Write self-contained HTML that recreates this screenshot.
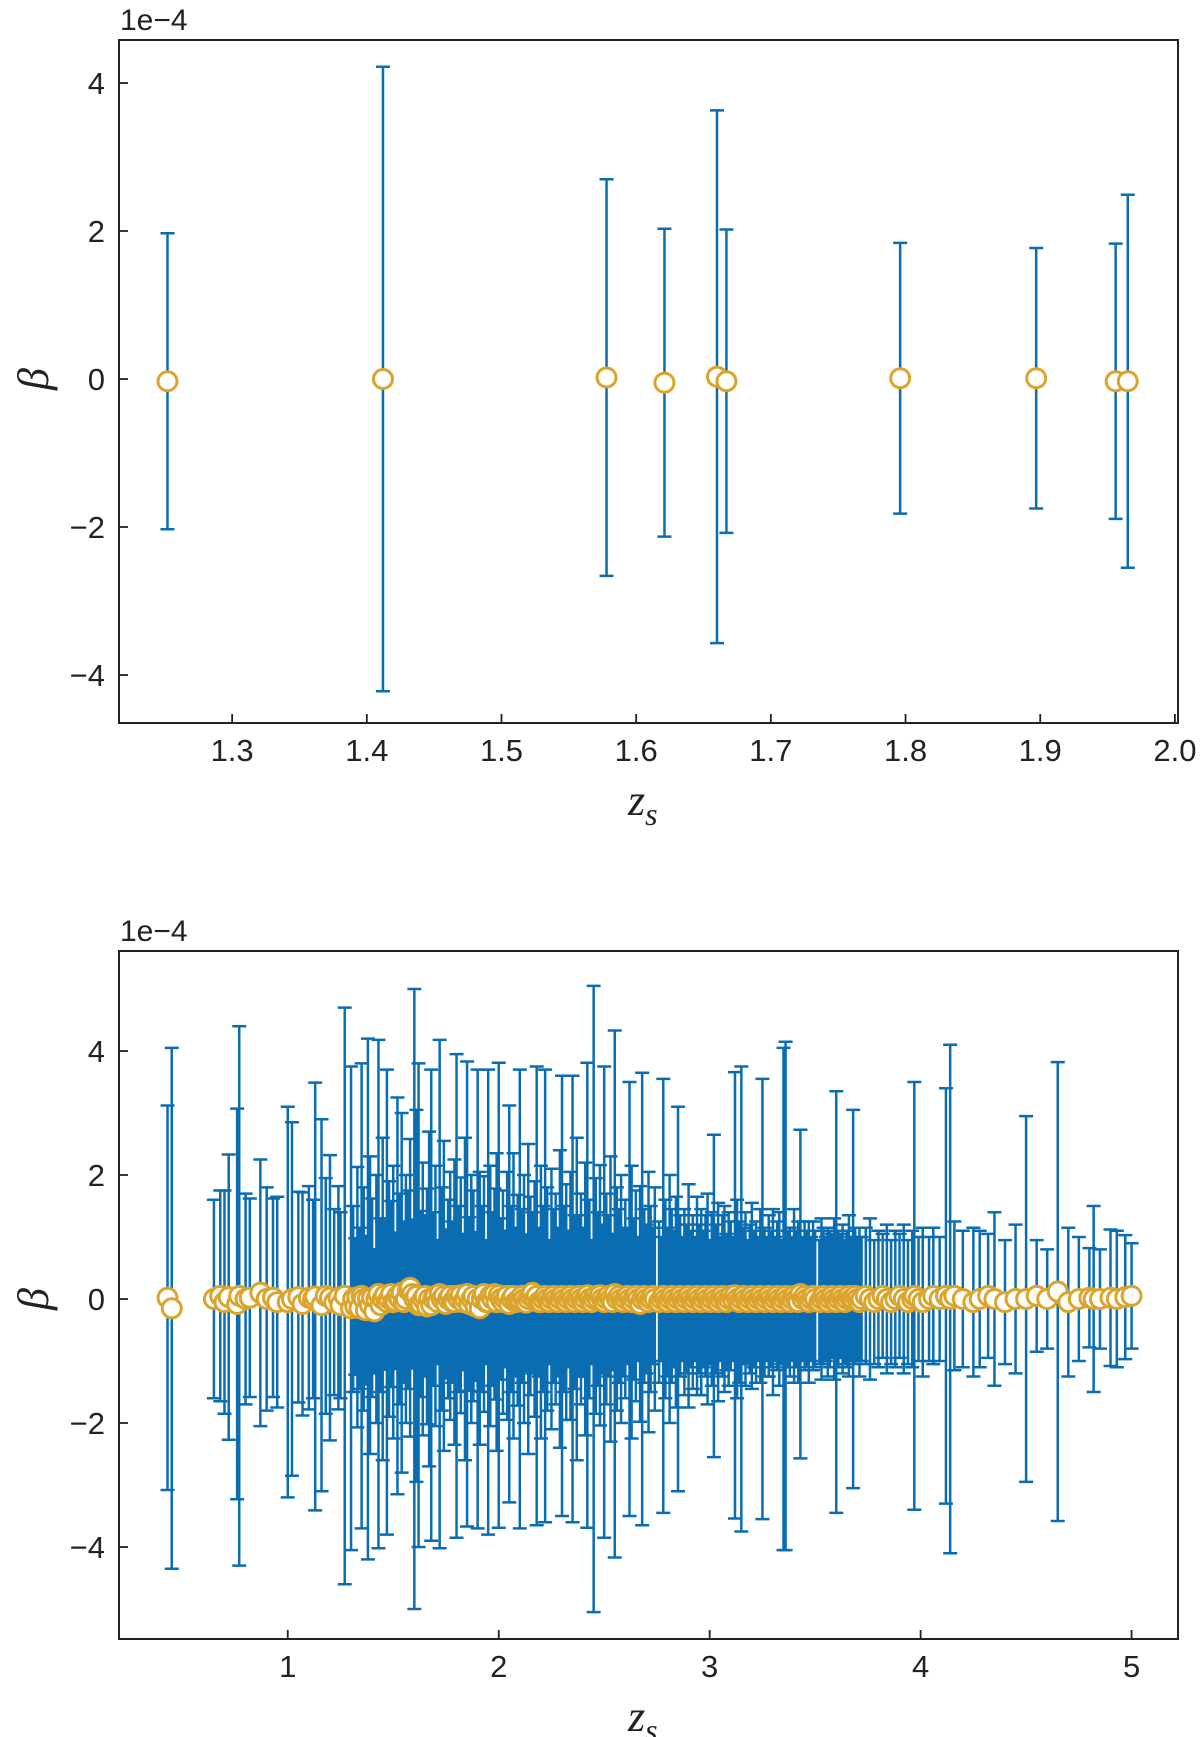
<!DOCTYPE html>
<html><head><meta charset="utf-8"><title>beta vs z_s</title>
<style>
html,body{margin:0;padding:0;background:#fff;}
svg{display:block;font-family:"Liberation Sans",sans-serif;}
</style></head>
<body>
<svg id="chart" width="1200" height="1737" viewBox="0 0 1200 1737" xmlns="http://www.w3.org/2000/svg">
<g id="top"></g>
<g id="bot"></g>
</svg>
<script>
// ---- Top panel data ----
const topZ = [1.252, 1.412, 1.578, 1.621, 1.660, 1.667, 1.796, 1.897, 1.956, 1.965];
const topBeta = [-0.03, 0.0, 0.02, -0.05, 0.03, -0.03, 0.01, 0.01, -0.03, -0.03];
const topErr = [2.0, 4.22, 2.68, 2.08, 3.6, 2.05, 1.83, 1.76, 1.86, 2.52];
const topXTicks = [1.3, 1.4, 1.5, 1.6, 1.7, 1.8, 1.9, 2.0];
const topXTickLabels = ["1.3","1.4","1.5","1.6","1.7","1.8","1.9","2.0"];
const topYTicks = [-4, -2, 0, 2, 4];
const topYTickLabels = ["\u22124","\u22122","0","2","4"];

// ---- Bottom panel data: [z, beta, err] ----
const botPoints = [
[0.43,0.02,3.1],[0.45,-0.15,4.2],[0.65,0.0,1.6],[0.68,0.05,1.7],[0.70,-0.05,1.8],[0.72,0.03,2.3],[0.76,-0.08,3.15],[0.77,0.05,4.35],
[0.80,0.0,1.7],[0.82,0.02,1.6],[0.87,0.1,2.15],[0.90,0.0,1.8],[0.93,0.02,1.6],[0.95,-0.05,1.7],[1.00,-0.05,3.15],[1.02,0.0,2.85],
[1.05,0.03,1.7],[1.07,-0.08,1.8],[1.10,0.02,1.8],[1.12,0.0,1.6],[1.13,0.04,3.45],[1.16,-0.1,3.0],[1.18,0.05,1.9],[1.20,0.02,2.3],
[1.22,-0.05,1.5],[1.24,0.02,1.8],[1.25,-0.1,1.5],[1.27,0.05,4.65],[1.30,-0.15,3.9],[1.31,0.0,1.5],[1.32,-0.12,1.1],[1.33,0.03,2.1],
[1.34,-0.15,1.3],[1.35,0.05,3.75],[1.36,0.0,1.8],[1.37,-0.18,1.2],[1.38,0.0,4.2],[1.39,-0.1,2.4],[1.40,0.02,1.6],[1.41,-0.2,1.0],
[1.42,0.0,2.0],[1.43,0.08,4.1],[1.44,-0.1,1.4],[1.45,0.0,2.6],[1.46,0.06,1.2],[1.47,-0.05,3.75],[1.48,0.0,1.9],[1.49,0.08,1.5],
[1.50,-0.05,2.2],[1.51,-0.03,1.1],[1.52,0.05,3.2],[1.53,0.0,1.7],[1.54,0.1,2.9],[1.55,-0.05,1.3],[1.56,0.0,2.0],[1.57,0.15,1.6],
[1.58,0.18,2.4],[1.59,0.08,1.2],[1.60,0.0,5.0],[1.61,0.05,3.0],[1.62,-0.1,3.9],[1.63,-0.08,1.5],[1.64,0.0,2.2],[1.65,0.05,1.3],
[1.66,-0.12,1.9],[1.67,0.0,2.7],[1.68,-0.1,3.8],[1.69,0.0,1.4],[1.70,0.05,2.1],[1.71,-0.05,1.0],[1.72,0.08,4.1],[1.73,0.0,1.8],
[1.74,0.05,2.5],[1.75,-0.08,1.2],[1.76,0.0,1.6],[1.77,0.05,2.0],[1.78,-0.05,1.3],[1.79,-0.05,2.3],[1.80,0.05,3.9],[1.81,0.0,1.5],
[1.82,0.06,1.9],[1.83,-0.05,1.1],[1.84,0.0,2.6],[1.85,0.08,3.75],[1.86,-0.08,1.4],[1.87,0.0,2.0],[1.88,0.05,1.7],[1.89,-0.12,1.2],
[1.90,0.0,3.7],[1.91,-0.15,2.2],[1.92,0.0,1.5],[1.93,0.08,1.9],[1.94,-0.05,1.0],[1.95,-0.05,3.75],[1.96,0.05,2.1],[1.97,0.0,1.4],
[1.98,0.08,1.7],[1.99,-0.05,2.4],[2.00,0.06,3.75],[2.01,0.0,1.3],[2.02,-0.05,1.8],[2.03,0.0,1.1],[2.04,0.05,2.0],[2.05,-0.08,3.2],
[2.06,0.0,1.5],[2.07,0.05,2.3],[2.08,-0.05,1.2],[2.09,-0.02,1.7],[2.10,0.0,3.7],[2.11,0.05,1.4],[2.12,0.0,2.0],[2.13,-0.06,1.1],
[2.14,0.0,2.5],[2.15,0.05,1.6],[2.16,0.1,1.3],[2.17,0.0,1.9],[2.18,0.05,3.7],[2.19,-0.05,1.2],[2.20,-0.05,2.2],[2.21,0.0,1.5],
[2.22,0.05,3.65],[2.23,0.0,1.8],[2.24,-0.05,1.0],[2.25,0.0,2.1],[2.26,0.05,1.4],[2.27,0.0,1.7],[2.28,-0.05,1.2],[2.29,0.0,2.4],
[2.30,0.05,3.55],[2.31,0.0,1.5],[2.32,-0.05,1.9],[2.33,0.0,1.1],[2.34,0.05,2.0],[2.35,0.0,3.6],[2.36,-0.05,1.4],[2.37,0.0,2.6],
[2.38,0.05,1.3],[2.39,0.0,1.7],[2.40,-0.05,1.2],[2.41,0.0,2.2],[2.42,0.06,3.75],[2.43,0.0,1.6],[2.44,-0.05,1.0],[2.45,0.0,5.05],
[2.46,0.05,1.9],[2.47,0.0,1.4],[2.48,0.06,2.1],[2.49,0.0,1.2],[2.50,-0.05,3.8],[2.51,0.0,1.7],[2.52,0.05,1.3],[2.53,0.0,2.3],
[2.54,-0.05,1.1],[2.55,0.08,4.25],[2.56,0.0,1.8],[2.57,0.05,1.4],[2.58,0.0,2.0],[2.59,-0.05,1.2],[2.60,0.0,1.6],[2.61,0.05,1.1],
[2.62,0.0,3.5],[2.63,-0.05,2.2],[2.64,0.0,1.3],[2.65,0.05,1.7],[2.66,0.0,1.0],[2.67,-0.08,1.9],[2.68,0.0,3.65],[2.69,0.05,1.4],
[2.70,0.0,1.2],[2.71,-0.05,2.1],[2.72,0.0,1.5],[2.73,0.05,1.1],[2.74,0.0,1.8],[2.76,-0.05,1.3],[2.77,0.0,1.0],[2.78,0.05,3.5],
[2.79,0.0,1.6],[2.80,-0.05,1.2],[2.81,0.0,2.0],[2.82,0.05,1.4],[2.83,0.0,1.1],[2.84,-0.05,1.7],[2.85,0.0,3.1],[2.86,0.05,1.3],
[2.87,0.0,1.0],[2.88,-0.05,1.5],[2.89,0.0,1.2],[2.90,0.05,1.8],[2.91,0.0,1.1],[2.92,-0.05,1.4],[2.93,0.0,1.0],[2.94,0.05,1.6],
[2.95,0.0,1.2],[2.96,-0.05,1.5],[2.97,0.0,1.1],[2.98,0.05,1.3],[2.99,0.0,1.7],[3.00,-0.05,1.0],[3.01,0.0,1.4],[3.02,0.05,2.6],
[3.03,0.0,1.2],[3.04,-0.05,1.6],[3.05,0.0,1.0],[3.06,0.05,1.3],[3.07,0.0,1.5],[3.08,-0.05,1.1],[3.09,0.0,1.4],[3.10,0.05,1.2],
[3.11,0.0,1.0],[3.12,0.06,3.6],[3.13,0.0,1.6],[3.14,-0.05,1.3],[3.15,0.0,3.75],[3.16,0.05,1.1],[3.17,0.0,1.4],[3.18,-0.05,1.0],
[3.19,0.0,1.2],[3.20,0.05,1.5],[3.21,0.0,1.1],[3.22,-0.05,1.3],[3.23,0.0,1.0],[3.24,0.05,1.4],[3.25,0.0,3.55],[3.26,-0.05,1.2],
[3.27,0.0,1.0],[3.28,0.05,1.3],[3.29,0.0,1.1],[3.30,-0.05,1.5],[3.31,0.0,1.0],[3.32,0.05,1.2],[3.33,0.0,1.4],[3.34,-0.05,1.0],
[3.35,0.0,4.05],[3.36,0.05,4.1],[3.37,0.0,1.1],[3.38,-0.05,1.2],[3.39,0.0,1.0],[3.40,0.05,1.4],[3.41,0.0,1.1],[3.42,-0.05,1.3],
[3.43,0.08,2.65],[3.44,0.0,1.0],[3.45,0.05,1.2],[3.46,0.0,1.1],[3.47,-0.05,1.3],[3.48,0.0,1.0],[3.49,0.05,1.2],[3.50,0.0,1.1],
[3.52,-0.05,1.0],[3.53,0.0,1.3],[3.54,0.05,1.1],[3.55,0.0,1.0],[3.56,-0.05,1.2],[3.57,0.0,1.1],[3.58,0.05,1.0],[3.59,0.0,1.3],
[3.60,-0.05,3.4],[3.61,0.0,1.1],[3.62,0.05,1.0],[3.63,0.0,1.2],[3.64,-0.05,1.0],[3.65,0.0,1.1],[3.66,0.05,1.3],[3.67,0.0,1.0],
[3.68,0.0,3.05],[3.69,0.05,1.1],[3.70,0.0,1.0],[3.71,-0.05,1.2],[3.72,0.0,1.0],[3.74,0.05,1.1],[3.76,0.0,1.3],[3.78,-0.05,1.0],
[3.80,0.0,1.1],[3.82,0.05,1.0],[3.84,0.0,1.2],[3.86,-0.05,1.0],[3.88,0.0,1.1],[3.90,0.05,1.0],[3.92,0.0,1.2],[3.94,-0.05,1.0],
[3.96,0.0,1.1],[3.97,0.05,3.45],[3.99,0.0,1.0],[4.01,-0.05,1.2],[4.04,0.0,1.0],[4.06,0.05,1.1],[4.09,0.0,1.0],[4.12,0.05,3.35],
[4.14,0.0,4.1],[4.16,0.05,1.2],[4.20,0.0,1.1],[4.25,-0.05,1.2],[4.28,0.0,1.1],[4.32,0.05,1.0],[4.35,0.0,1.4],[4.40,-0.05,1.0],
[4.45,0.0,1.2],[4.50,0.0,2.95],[4.55,0.05,0.9],[4.60,0.0,0.8],[4.65,0.12,3.7],[4.70,-0.05,1.2],[4.75,0.0,1.0],[4.80,0.02,0.8],
[4.82,0.0,1.5],[4.85,0.0,0.8],[4.90,0.02,1.1],[4.93,0.0,1.1],[4.97,0.03,1.0],[5.00,0.05,0.85]
];
const botXTicks = [1, 2, 3, 4, 5];
const botXTickLabels = ["1","2","3","4","5"];
const botYTicks = [-4, -2, 0, 2, 4];
const botYTickLabels = ["\u22124","\u22122","0","2","4"];

const NS = "http://www.w3.org/2000/svg";
const BLUE = "#0a6db2", GOLD = "#dba42c";
function mk(tag, attrs, parent){ const e=document.createElementNS(NS,tag); for(const k in attrs) e.setAttribute(k,attrs[k]); parent.appendChild(e); return e; }

function panel(g, cfg, pts){
  const L=119,R=1178,T=cfg.T,B=cfg.B;
  const xs=v=>L+(v-cfg.x0)/(cfg.x1-cfg.x0)*(R-L);
  const ys=v=>cfg.y0px-v*cfg.ppu;
  const bars=mk("g",{},g);
  
  
  pts.forEach(p=>{
    const x=xs(p[0]),yt=ys(p[1]+p[2]),yb=ys(p[1]-p[2]);
    const b=mk("path",{d:`M${x},${yt}V${yb}M${x-7},${yt}H${x+7}M${x-7},${yb}H${x+7}`,stroke:BLUE,"stroke-width":2.5,fill:"none"},bars);
    
    
  });
  const mg=mk("g",{},g);
  
  
  pts.forEach(p=>{
    const c=mk("circle",{cx:xs(p[0]),cy:ys(p[1]),r:9.5,fill:"#fff",stroke:GOLD,"stroke-width":3},mg);
    
    
  });
  const fr=mk("rect",{x:L,y:T,width:R-L,height:B-T,fill:"none",stroke:"#222","stroke-width":2},g);
  
  
  cfg.xt.forEach((v,i)=>{
    const x=xs(v);
    const t=mk("line",{x1:x,x2:x,y1:B,y2:B-9,stroke:"#222","stroke-width":1.8},g);
    
    
    const l=mk("text",{x:x,y:B+38,"text-anchor":"middle","font-size":31,fill:"#222"},g);
    l.textContent=cfg.xl[i];
    
    
  });
  cfg.yt.forEach((v,i)=>{
    const y=ys(v);
    const t=mk("line",{x1:L,x2:L+9,y1:y,y2:y,stroke:"#222","stroke-width":1.8},g);
    
    
    const l=mk("text",{x:L-14,y:y+11,"text-anchor":"end","font-size":31,fill:"#222"},g);
    l.textContent=cfg.yl[i];
    
    
  });
  const off=mk("text",{x:L+1,y:T-10,"font-size":30,fill:"#222"},g);
  off.textContent="1e\u22124";
  
  
  const xl=mk("text",{x:628,y:B+92,"font-size":44,"font-style":"italic","font-family":"Liberation Serif, serif",fill:"#222"},g);
  xl.innerHTML='z<tspan font-size="32" dy="10">s</tspan>';
  
  
  const ym=cfg.y0px;
  const yl=mk("text",{x:0,y:0,"font-size":44,"font-style":"italic","font-family":"Liberation Serif, serif",fill:"#222","text-anchor":"middle",transform:`translate(48,${ym}) rotate(-90)`},g);
  yl.textContent="\u03b2";
  
  
}

const topPts = topZ.map((z,i)=>[z,topBeta[i],topErr[i]]);
panel(document.getElementById("top"),{T:40,B:723,x0:1.216,x1:2.0023,y0px:379,ppu:74,xt:topXTicks,xl:topXTickLabels,yt:topYTicks,yl:topYTickLabels},topPts);
panel(document.getElementById("bot"),{T:951,B:1639,x0:0.2,x1:5.22,y0px:1299,ppu:62,xt:botXTicks,xl:botXTickLabels,yt:botYTicks,yl:botYTickLabels},botPoints);
</script>
</body></html>
